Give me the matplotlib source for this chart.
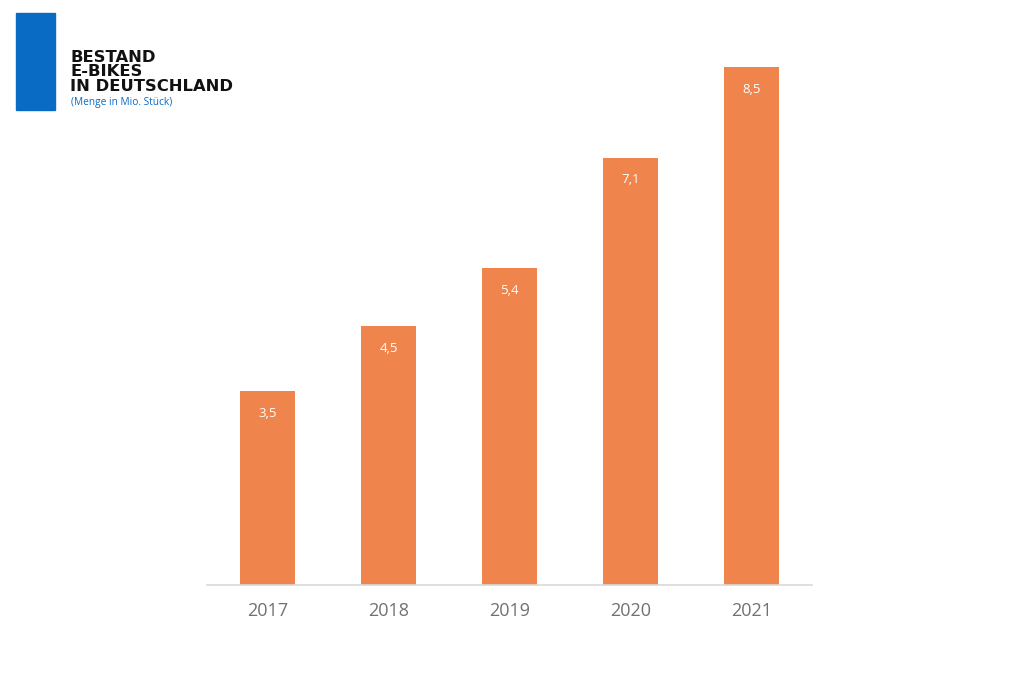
import matplotlib.pyplot as plt
from matplotlib.patches import Rectangle

years = ['2017', '2018', '2019', '2020', '2021']
bestand = [3.5, 4.5, 5.4, 7.1, 8.5]
labels = ['3,5', '4,5', '5,4', '7,1', '8,5']

orange = '#EF844C'
blue = '#0A6BC4'

fig = plt.figure(figsize=(10.24, 6.83), dpi=100)
ax = fig.add_axes([207/1024, 1 - 585/683, 605/1024, (585 - 67)/683])

x = range(len(years))
bars = ax.bar(x, bestand, width=0.455, color=orange, zorder=2)
for b, lab in zip(bars, labels):
    ax.annotate(lab, (b.get_x() + b.get_width()/2, b.get_height()),
                xytext=(0, -16), textcoords='offset points', ha='center', va='center',
                color='white', fontsize=9.5, family='Open Sans')

ax.set_xlim(-0.5, 4.5)
ax.set_ylim(0.506, 8.5)
ax.set_xticks(list(x))
ax.set_xticklabels(years, fontsize=13, color='#717171', family='Open Sans')
ax.tick_params(axis='x', length=0, pad=12)
ax.set_yticks([])
for s in ['top', 'right', 'left']:
    ax.spines[s].set_visible(False)
ax.spines['bottom'].set_color('#d9d9d9')
ax.spines['bottom'].set_linewidth(1.2)

# blue block + title
fig.patches.append(Rectangle((16/1024, 1 - 110/683), 39/1024, 97/683,
                             transform=fig.transFigure, color=blue))
for t, base in zip(['BESTAND', 'E-BIKES', 'IN DEUTSCHLAND'], [62, 76.5, 91]):
    fig.text(70/1024, 1 - base/683, t, fontsize=11.8, fontweight='bold',
             color='#111111', family='DejaVu Sans', va='baseline')
fig.text(71/1024, 1 - 105/683, '(Menge in Mio. Stück)', fontsize=7.3,
         color=blue, family='Open Sans', va='baseline')

fig.savefig('out.png', dpi=100)
